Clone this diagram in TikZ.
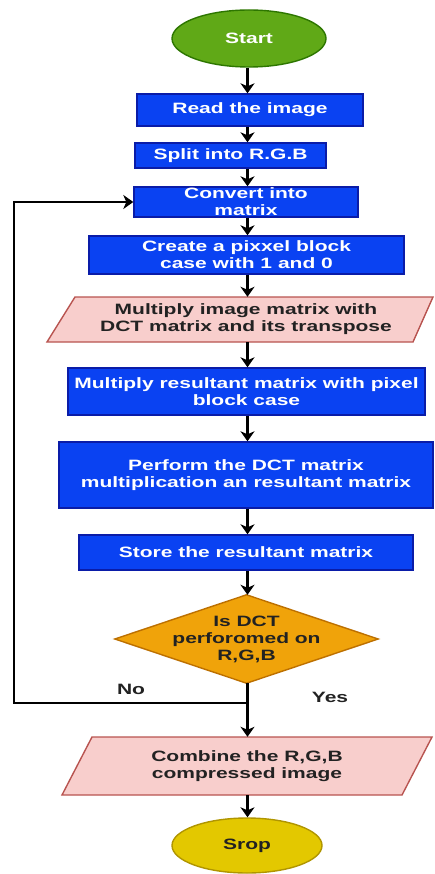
\documentclass[tikz,border=0pt]{standalone}
\usepackage{fontspec}
\setmainfont{Liberation Sans}
\newfontfamily\labfont{Liberation Sans}[FakeStretch=1.4]
\usetikzlibrary{shapes.geometric,arrows.meta,backgrounds}

\definecolor{boxblue}{HTML}{0A42F2}
\definecolor{boxblueline}{HTML}{0A1CA8}
\definecolor{termgreen}{HTML}{60A917}
\definecolor{termgreenline}{HTML}{2D7600}
\definecolor{termyellow}{HTML}{E3C800}
\definecolor{termyellowline}{HTML}{B09500}
\definecolor{decorange}{HTML}{F0A30A}
\definecolor{decorangeline}{HTML}{BD7000}
\definecolor{iopink}{HTML}{F8CECC}
\definecolor{iopinkline}{HTML}{B85450}
\definecolor{darktext}{HTML}{222222}

\tikzset{
  txt/.style={font=\labfont\bfseries\fontsize{15}{17}\selectfont, align=center, inner sep=0pt},
  proc/.style={txt, rectangle, draw=boxblueline, fill=boxblue, line width=1.4pt, text=white},
  term/.style={txt, ellipse, line width=1.4pt},
  plain/.style={txt, text=darktext},
  iobox/.style={draw=iopinkline, fill=iopink, line width=1.4pt, line join=miter},
  decbox/.style={draw=decorangeline, fill=decorange, line width=1.4pt},
  flow/.style={line width=2.1pt, draw=black},
  arr/.style={flow, -{Stealth[length=10pt, width=14pt, inset=3pt]}},
}

\begin{document}
\begin{tikzpicture}[x=1pt, y=-1pt]
  \useasboundingbox (0,0) rectangle (434,874);

  % main column of steps
  \node[term, fill=termgreen, draw=termgreenline, text=white,
        minimum width=154pt, minimum height=57pt] (start) at (249,38.5) {Start};
  \node[proc, minimum width=226pt, minimum height=32pt] (read) at (250,110) {Read the image};
  \node[proc, minimum width=191pt, minimum height=25pt] (split) at (230.5,155.5) {Split into R.G.B};
  \node[proc, minimum width=224pt, minimum height=30pt] (conv) at (246,202) {Convert into\\matrix};
  \node[proc, minimum width=315pt, minimum height=38pt] (create) at (246.5,255) {Create a pixxel block\\case with 1 and 0};
  \node[plain, minimum width=300pt, minimum height=45pt] (mulone) at (246,319.5) {Multiply image matrix with\\DCT matrix and its transpose};
  \node[proc, minimum width=357pt, minimum height=47pt] (multwo) at (246.5,391.5) {Multiply resultant matrix with pixel\\block case};
  \node[proc, minimum width=374pt, minimum height=66pt] (perf) at (246,475) {Perform the DCT matrix\\multiplication an resultant matrix};
  \node[proc, minimum width=334pt, minimum height=35pt] (store) at (246,552.5) {Store the resultant matrix};
  \node[plain, minimum width=263pt, minimum height=88pt] (dec) at (246.5,639) {Is DCT\\perforomed on\\R,G,B};
  \node[plain, minimum width=300pt, minimum height=58pt] (comb) at (247,766) {Combine the R,G,B\\compressed image};
  \node[term, fill=termyellow, draw=termyellowline, text=darktext,
        minimum width=150pt, minimum height=55pt] (stop) at (247,845.5) {Srop};

  % branch labels
  \node[plain] (no) at (131,689.5) {No};
  \node[plain] (yes) at (330,697) {Yes};

  % shapes behind the text nodes
  \begin{scope}[on background layer]
    \draw[iobox] (75,297) -- (433,297) -- (413,342) -- (47,342) -- cycle;
    \draw[decbox] (dec.north) -- (dec.east) -- (dec.south) -- (dec.west) -- cycle;
    \draw[iobox] (92,737) -- (432,737) -- (402,795) -- (62,795) -- cycle;
  \end{scope}

  % connectors
  \coordinate (spine) at (247.5,0);
  \coordinate (join) at (247.5,703);
  \coordinate (loopcorner) at (14,703);

  \draw[arr] (start.south -| spine) -- (read.north -| spine);
  \draw[arr] (read.south -| spine) -- (split.north -| spine);
  \draw[arr] (split.south -| spine) -- (conv.north -| spine);
  \draw[arr] (conv.south -| spine) -- (create.north -| spine);
  \draw[arr] (create.south -| spine) -- (mulone.north -| spine);
  \draw[arr] (mulone.south -| spine) -- (multwo.north -| spine);
  \draw[arr] (multwo.south -| spine) -- (perf.north -| spine);
  \draw[arr] (perf.south -| spine) -- (store.north -| spine);
  \draw[arr] (store.south -| spine) -- (dec.north -| spine);
  \draw[arr] (dec.south -| spine) -- (comb.north -| spine);
  \draw[arr] (comb.south -| spine) -- (stop.north -| spine);

  % loop back for the next colour channel
  \draw[arr] (join) -- (loopcorner) |- (conv.west);
\end{tikzpicture}
\end{document}
